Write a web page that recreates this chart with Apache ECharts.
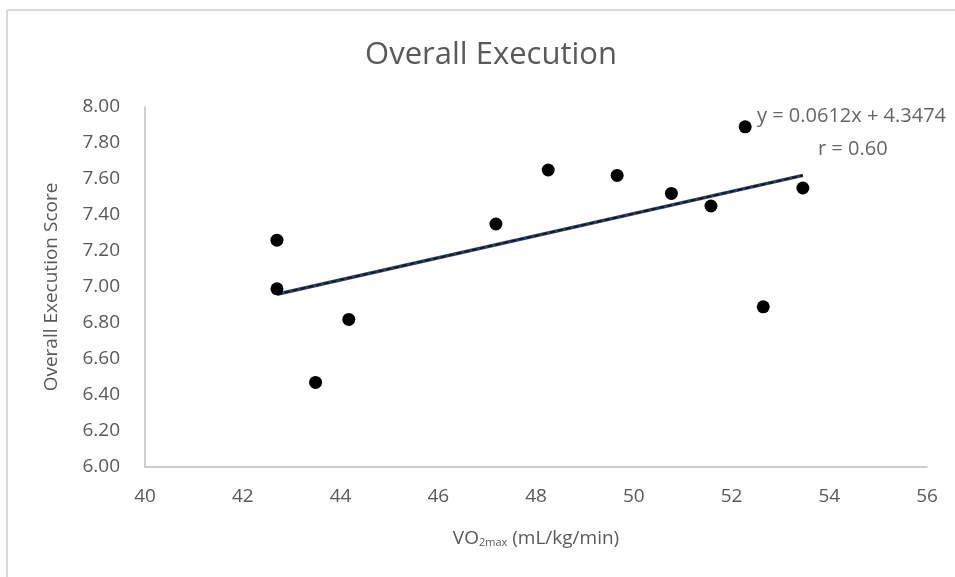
<!DOCTYPE html>
<html>
<head>
<meta charset="utf-8">
<script src="https://cdn.jsdelivr.net/npm/echarts@6/dist/echarts.min.js"></script>
<style>
html,body{margin:0;padding:0;background:#fff;}
#chart{width:955px;height:577px;}
</style>
</head>
<body>
<div id="chart"></div>
<script>
// Data
const vo2max = [42.70, 42.70, 43.49, 44.17, 47.18, 48.25, 49.66, 50.77, 51.58, 52.28, 52.65, 53.46];
const executionScore = [7.26, 6.99, 6.47, 6.82, 7.35, 7.65, 7.62, 7.52, 7.45, 7.89, 6.89, 7.55];
const trendX = [42.70, 53.46];
const trendY = [6.96, 7.62];
const xTicks = [40, 42, 44, 46, 48, 50, 52, 54, 56];
const yTicks = [6.0, 6.2, 6.4, 6.6, 6.8, 7.0, 7.2, 7.4, 7.6, 7.8, 8.0];
const equationText = 'y = 0.0612x + 4.3474';
const rText = 'r = 0.60';

const FONT = "'Open Sans', 'DejaVu Sans', sans-serif";
const points = vo2max.map((x, i) => [x, executionScore[i]]);
const trend = trendX.map((x, i) => [x, trendY[i]]);

const chart = echarts.init(document.getElementById('chart'), null, {renderer: 'canvas'});
chart.setOption({
  animation: false,
  backgroundColor: '#ffffff',
  title: {
    text: 'Overall Execution',
    left: 486, top: 35, textAlign: 'center',
    textStyle: {fontFamily: FONT, fontSize: 31, fontWeight: 'normal', color: '#595959'}
  },
  graphic: [
    {type: 'line', shape: {x1: 7, y1: 10, x2: 7, y2: 577}, style: {stroke: '#d9d9d9', lineWidth: 2}},
    {type: 'line', shape: {x1: 7, y1: 10, x2: 955, y2: 10}, style: {stroke: '#d9d9d9', lineWidth: 2}},
    {type: 'text', left: 757, top: 106, style: {text: equationText, fontFamily: FONT, fontSize: 20, fill: '#666666'}},
    {type: 'text', left: 818, top: 139, style: {text: rText, fontFamily: FONT, fontSize: 20, fill: '#666666'}}
  ],
  grid: {left: 145, right: 28, top: 107, bottom: 110, containLabel: false},
  xAxis: {
    type: 'value', min: 40, max: 56, interval: 2,
    name: '{a|VO}{s|2max}{a| (mL/kg/min)}',
    nameLocation: 'middle', nameGap: 62,
    nameTextStyle: {rich: {
      a: {fontFamily: FONT, fontSize: 19, color: '#595959'},
      s: {fontFamily: FONT, fontSize: 11, color: '#595959', verticalAlign: 'bottom', padding: [8, 0, 0, 0]}
    }},
    axisLine: {show: true, lineStyle: {color: '#bfbfbf', width: 1.5}},
    axisTick: {show: false},
    splitLine: {show: false},
    axisLabel: {fontFamily: FONT, fontSize: 19, color: '#595959', margin: 20,
      formatter: v => xTicks.includes(v) ? String(v) : ''}
  },
  yAxis: {
    type: 'value', min: 6, max: 8, interval: 0.2,
    name: 'Overall Execution Score',
    nameLocation: 'middle', nameGap: 84, nameRotate: 90,
    nameTextStyle: {fontFamily: FONT, fontSize: 19, color: '#595959'},
    axisLine: {show: true, lineStyle: {color: '#bfbfbf', width: 1.5}},
    axisTick: {show: false},
    splitLine: {show: false},
    axisLabel: {fontFamily: FONT, fontSize: 19, color: '#595959', margin: 25,
      formatter: v => { const t = yTicks.find(y => Math.abs(y - v) < 1e-6); return t === undefined ? '' : t.toFixed(2); }}
  },
  series: [
    {
      type: 'line', data: trend, symbol: 'none', z: 2,
      lineStyle: {color: '#2e3f63', width: 3.5}
    },
    {
      type: 'line', data: trend, symbol: 'none', z: 3,
      lineStyle: {color: '#111111', width: 1.5, type: [5, 3]}
    },
    {
      type: 'scatter', data: points, symbol: 'circle', symbolSize: 13, z: 4,
      itemStyle: {color: '#000000', opacity: 1}
    }
  ]
});
</script>
</body>
</html>
